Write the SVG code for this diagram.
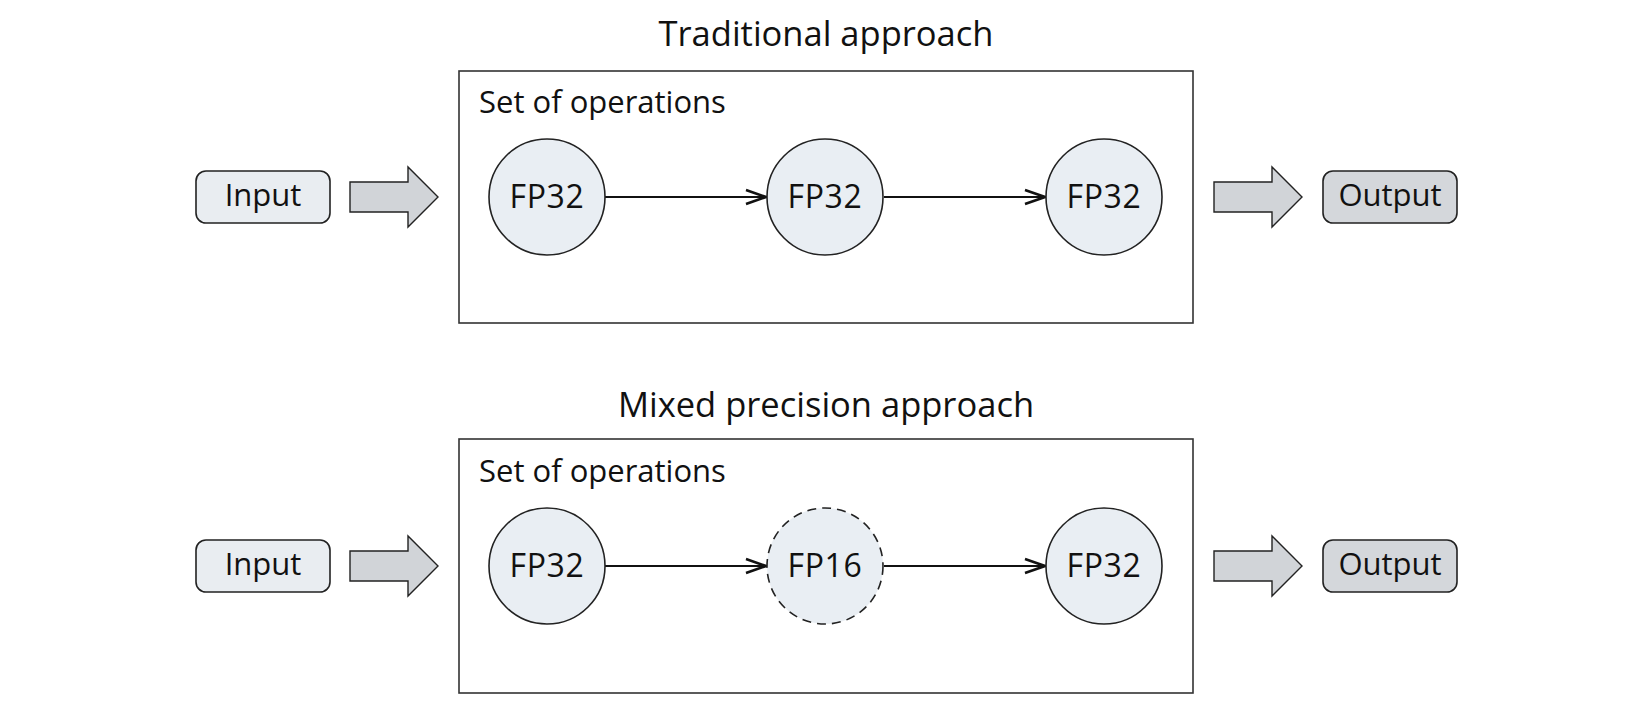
<svg xmlns="http://www.w3.org/2000/svg" width="1650" height="716" viewBox="0 0 1650 716">
<style>
text{font-family:"Open Sans","Noto Sans","Liberation Sans",sans-serif;fill:#111;}
.title{font-size:34.5px;text-anchor:middle;}
.lbl{font-size:31px;}
.node{font-size:32px;text-anchor:middle;letter-spacing:0.6px;}
.io{font-size:31px;text-anchor:middle;}
.frame{fill:#fff;stroke:#333;stroke-width:1.6;}
.op{fill:#e9eef3;stroke:#222;stroke-width:1.6;}
.op16{fill:#e9eef3;stroke:#222;stroke-width:1.6;stroke-dasharray:9 6;}
.inbox{fill:#e9edf1;stroke:#222;stroke-width:1.6;}
.outbox{fill:#d4d7db;stroke:#222;stroke-width:1.6;}
.block{fill:#d1d4d8;stroke:#222;stroke-width:1.4;stroke-linejoin:miter;}
.edge{stroke:#111;stroke-width:2.2;fill:none;}
</style>
<defs>
<marker id="chev" viewBox="0 0 24 18" refX="22" refY="9" markerWidth="24" markerHeight="18" markerUnits="userSpaceOnUse" orient="auto">
<path d="M2,2 L22,9 L2,16" fill="none" stroke="#111" stroke-width="2.6"/>
</marker>
<path id="blk" d="M0,-15 L58,-15 L58,-30 L88,0 L58,30 L58,15 L0,15 Z"/>
</defs>

<text class="title" x="826" y="46">Traditional approach</text>
<text class="title" x="826" y="417">Mixed precision approach</text>

<g id="frame-top"><rect class="frame" x="459" y="71" width="734" height="252"/><text class="lbl" x="479" y="113">Set of operations</text></g>
<g id="frame-bottom"><rect class="frame" x="459" y="439" width="734" height="254"/><text class="lbl" x="479" y="482">Set of operations</text></g>

<g id="connectors">
<use href="#blk" class="block" x="350" y="197"/>
<use href="#blk" class="block" x="1214" y="197"/>
<use href="#blk" class="block" x="350" y="566"/>
<use href="#blk" class="block" x="1214" y="566"/>
<line class="edge" x1="605" y1="197" x2="766" y2="197" marker-end="url(#chev)"/>
<line class="edge" x1="884" y1="197" x2="1045" y2="197" marker-end="url(#chev)"/>
<line class="edge" x1="605" y1="566" x2="766" y2="566" marker-end="url(#chev)"/>
<line class="edge" x1="884" y1="566" x2="1045" y2="566" marker-end="url(#chev)"/>
</g>

<g id="input-top"><rect class="inbox" x="196" y="171" width="134" height="52" rx="10"/><text class="io" x="263" y="206">Input</text></g>
<g id="output-top"><rect class="outbox" x="1323" y="171" width="134" height="52" rx="10"/><text class="io" x="1390" y="206">Output</text></g>
<g id="input-bottom"><rect class="inbox" x="196" y="540" width="134" height="52" rx="10"/><text class="io" x="263" y="575">Input</text></g>
<g id="output-bottom"><rect class="outbox" x="1323" y="540" width="134" height="52" rx="10"/><text class="io" x="1390" y="575">Output</text></g>

<g id="t-op1"><circle class="op" cx="547" cy="197" r="58"/><text class="node" x="547" y="208">FP32</text></g>
<g id="t-op2"><circle class="op" cx="825" cy="197" r="58"/><text class="node" x="825" y="208">FP32</text></g>
<g id="t-op3"><circle class="op" cx="1104" cy="197" r="58"/><text class="node" x="1104" y="208">FP32</text></g>

<g id="m-op1"><circle class="op" cx="547" cy="566" r="58"/><text class="node" x="547" y="577">FP32</text></g>
<g id="m-op2"><circle class="op16" cx="825" cy="566" r="58"/><text class="node" x="825" y="577">FP16</text></g>
<g id="m-op3"><circle class="op" cx="1104" cy="566" r="58"/><text class="node" x="1104" y="577">FP32</text></g>
</svg>
